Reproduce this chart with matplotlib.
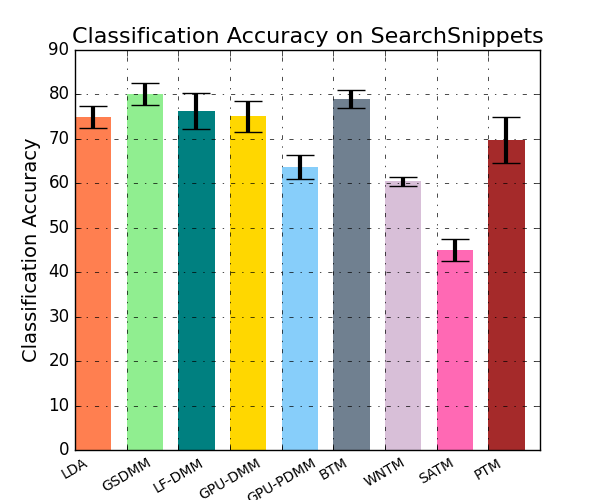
"""Bar chart of classification accuracy on SearchSnippets."""

import matplotlib
matplotlib.use("Agg")
import matplotlib.pyplot as plt
import numpy as np

models = ["LDA", "GSDMM", "LF-DMM", "GPU-DMM", "GPU-PDMM", "BTM", "WNTM", "SATM", "PTM"]
accuracy = [74.9, 80.1, 76.2, 75.1, 63.7, 79.0, 60.5, 45.0, 69.8]
std = [2.45, 2.4, 4.05, 3.45, 2.65, 1.95, 1.0, 2.45, 5.15]
colors = ["coral", "lightgreen", "teal", "gold", "lightskyblue",
          "slategray", "thistle", "hotpink", "brown"]


def main() -> None:
    plt.style.use("classic")
    fig, ax = plt.subplots(figsize=(6, 5), dpi=100)
    fig.patch.set_facecolor("white")
    fig.subplots_adjust(left=0.125, right=0.9, bottom=0.1, top=0.9)

    x = np.arange(len(models))
    width = 0.7
    ax.bar(x, accuracy, width, align="edge", color=colors, edgecolor="none")
    ax.errorbar(x + width / 2, accuracy, yerr=std, fmt="none", ecolor="black",
                elinewidth=3, capsize=10, capthick=1)

    ax.set_xlim(0, len(models))
    ax.set_ylim(0, 90)
    ax.set_xticks(x)
    ax.set_xticklabels(models, rotation=30, ha="center", fontsize=10)
    ax.tick_params(axis="y", labelsize=12)
    ax.grid(True, linestyle="-.", color="black", linewidth=0.5)
    ax.set_axisbelow(False)
    ax.set_ylabel("Classification Accuracy", fontsize=14)
    ax.set_title("Classification Accuracy on SearchSnippets", fontsize=16)

    fig.savefig("out.png", dpi=100, facecolor="white")


if __name__ == "__main__":
    main()
